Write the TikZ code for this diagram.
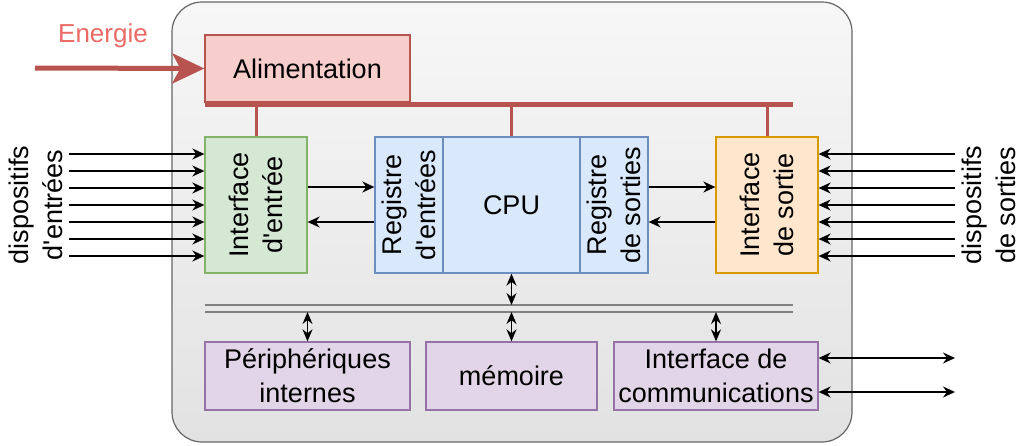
\documentclass[tikz,border=0pt]{standalone}
\usepackage{fontspec}
\setmainfont{Liberation Sans}
\usepackage{tikz}
\usetikzlibrary{arrows.meta}

\definecolor{alimfill}{HTML}{F8CECC}
\definecolor{alimdraw}{HTML}{B85450}
\definecolor{energytext}{HTML}{EA6B66}
\definecolor{infill}{HTML}{D5E8D4}
\definecolor{indraw}{HTML}{82B366}
\definecolor{cpufill}{HTML}{DAE8FC}
\definecolor{cpudraw}{HTML}{6C8EBF}
\definecolor{outfill}{HTML}{FFE6CC}
\definecolor{outdraw}{HTML}{D79B00}
\definecolor{perfill}{HTML}{E1D5E7}
\definecolor{perdraw}{HTML}{9673A6}
\definecolor{frametop}{HTML}{F7F7F7}
\definecolor{framebot}{HTML}{E2E2E2}
\definecolor{framedraw}{HTML}{666666}

\tikzstyle{txt}=[font=\fontsize{27}{34}\selectfont,align=center,inner sep=0pt]
\tikzstyle{block}=[rectangle,line width=1.3pt,inner sep=0pt,txt]
\tikzstyle{alimbox}=[block,fill=alimfill,draw=alimdraw]
\tikzstyle{inbox}=[block,fill=infill,draw=indraw]
\tikzstyle{cpubox}=[block,fill=cpufill,draw=cpudraw]
\tikzstyle{outbox}=[block,fill=outfill,draw=outdraw]
\tikzstyle{perbox}=[block,fill=perfill,draw=perdraw]
\tikzstyle{sig}=[-{Stealth[length=12pt,width=11pt]},line width=1.5pt]
\tikzstyle{bisig}=[{Stealth[length=12pt,width=11pt]}-{Stealth[length=12pt,width=11pt]},line width=1.5pt]
\tikzstyle{vsig}=[{Stealth[length=12pt,width=10pt]}-{Stealth[length=12pt,width=10pt]},line width=1.5pt]
\tikzstyle{power}=[alimdraw,line width=5pt]
\tikzstyle{powerlink}=[alimdraw,line width=3pt]

\newcommand{\apos}{\textquotesingle}

\begin{document}
\begin{tikzpicture}[x=1pt,y=-1pt]
\useasboundingbox (0,0) rectangle (1024,445);

% frame
\draw[draw=framedraw,line width=1.2pt,rounded corners=30pt,top color=frametop,bottom color=framebot] (172,2) rectangle (852,442);

% vertices
\node[alimbox,minimum width=205pt,minimum height=67pt] (alim) at (307.5,68.5) {Alimentation};

\node[inbox,minimum width=102pt,minimum height=136pt] (ientree) at (256,205) {};
\node[txt,rotate=90] (ientreetxt) at (ientree) {Interface\\d\apos entrée};

\node[cpubox,minimum width=68pt,minimum height=136pt] (regin) at (409,205) {};
\node[txt,rotate=90] (regintxt) at (regin) {Registre\\d\apos entrées};
\node[cpubox,minimum width=137pt,minimum height=136pt] (cpu) at (511.5,205) {CPU};
\node[cpubox,minimum width=68pt,minimum height=136pt] (regout) at (614,205) {};
\node[txt,rotate=90] (regouttxt) at (regout) {Registre\\de sorties};

\node[outbox,minimum width=102pt,minimum height=136pt] (isortie) at (767,205) {};
\node[txt,rotate=90] (isortietxt) at (isortie) {Interface\\de sortie};

\node[perbox,minimum width=205pt,minimum height=68pt] (periph) at (307.5,376) {Périphériques\\internes};
\node[perbox,minimum width=171pt,minimum height=68pt] (mem) at (511.5,376) {mémoire};
\node[perbox,minimum width=204pt,minimum height=68pt] (comm) at (716,376) {Interface de\\communications};

% labels
\node[txt,font=\fontsize{26}{30}\selectfont,text=energytext] (energie) at (103,36) {Energie};
\node[txt,rotate=90] (dispin) at (36,205) {dispositifs\\d\apos entrées};
\node[txt,rotate=90] (dispout) at (989,205) {dispositifs\\de sorties};

% bus coordinates
\coordinate (pbusL) at (205,104);
\coordinate (pbusR) at (793,104);
\coordinate (dbusL) at (205,305);
\coordinate (dbusR) at (793,305);
\coordinate (dbusL2) at (205,312);
\coordinate (dbusR2) at (793,312);
\coordinate (esrc) at (35,68);

% edges and paths
\draw[power,-{Stealth[length=32pt,width=30pt,inset=8pt]}] (esrc) -- (alim.west);
\draw[power] (pbusL) -- (pbusR);
\draw[powerlink] (ientree.north) -- (ientree.north |- pbusL);
\draw[powerlink] (cpu.north) -- (cpu.north |- pbusL);
\draw[powerlink] (isortie.north) -- (isortie.north |- pbusL);

\foreach \i/\y in {1/154,2/171,3/188,4/205,5/222,6/239,7/256}{
  \coordinate (in\i) at (69,\y);
  \coordinate (out\i) at (955,\y);
  \draw[sig] (in\i) -- (in\i -| ientree.west);
  \draw[sig] (out\i) -- (out\i -| isortie.east);
}

\draw[sig] ([yshift=18pt]ientree.east) -- ([yshift=18pt]regin.west);
\draw[sig] ([yshift=-17pt]regin.west) -- ([yshift=-17pt]ientree.east);
\draw[sig] ([yshift=18pt]regout.east) -- ([yshift=18pt]isortie.west);
\draw[sig] ([yshift=-17pt]isortie.west) -- ([yshift=-17pt]regout.east);

\draw[gray,line width=1.5pt] (dbusL) -- (dbusR);
\draw[gray,line width=1.5pt] (dbusL2) -- (dbusR2);

\draw[vsig] (cpu.south) -- (cpu.south |- dbusL);
\draw[vsig] (periph.north) -- (periph.north |- dbusL2);
\draw[vsig] (mem.north) -- (mem.north |- dbusL2);
\draw[vsig] (comm.north) -- (comm.north |- dbusL2);

\coordinate (com1) at (955,358);
\coordinate (com2) at (955,392);
\draw[bisig] (comm.east |- com1) -- (com1);
\draw[bisig] (comm.east |- com2) -- (com2);

\end{tikzpicture}
\end{document}
